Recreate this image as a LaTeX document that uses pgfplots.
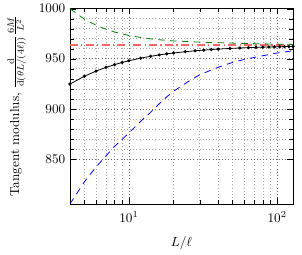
\documentclass[border=0pt]{standalone}
\usepackage{pgfplots}
\pgfplotsset{compat=1.18}
\definecolor{pinkred}{RGB}{245,105,105}
\begin{document}
\begin{tikzpicture}
\begin{axis}[
  name=ax,
  scale only axis,
  width=169pt, height=148pt,
  xmode=log,
  xmin=4, xmax=128,
  ymin=805, ymax=1000,
  ytick={850,900,950,1000},
  minor y tick num=4,
  /pgf/number format/set thousands separator={},
  grid=both,
  major grid style={dotted, gray!80!black},
  minor grid style={dotted, gray!70},
  tick style={black},
  xticklabel style={yshift=-2.5pt},
  xlabel={$L/\ell$},
  xlabel style={yshift=-4pt},
  ylabel={Tangent modulus, $\frac{\mathrm{d}}{\mathrm{d}(\theta L/(4\ell))}\frac{6M}{L^2}$},
  ylabel style={yshift=3pt},
]
\addplot[pinkred, line width=1pt, dash pattern=on 6pt off 2.5pt on 1pt off 2.5pt] coordinates {(4,963.6) (128,963.6)};
\addplot[green!50!black, line width=0.6pt, dash pattern=on 5pt off 4pt] coordinates {
(4,1000) (5,989.5) (6,983.5) (7,979.5) (8,976.7) (10,973.2) (12,971.2) (15,969.3) (20,967.8) (30,966.6) (40,966.0) (60,965.3) (80,964.9) (100,964.6) (128,964.3)};
\addplot[blue, line width=0.6pt, dash pattern=on 5pt off 4pt] coordinates {
(4,805) (5,827) (6,842) (7,853) (8,862.5) (9,869.5) (10,876) (12,887.5) (14,896.5) (16,905) (18,912) (20,917.5) (25,927) (30,934) (40,941.5) (50,946.3) (60,949.3) (80,953) (100,955.7) (128,958)};
\addplot[black, line width=0.6pt, mark=*, mark size=0.9pt] coordinates {
(4,924.75) (5,932.5) (6,937.67) (7,941.36) (8,944.13) (9,946.28) (10,948.0) (12,950.58) (14,952.43) (16,953.81) (18,954.89) (20,955.75) (24,957.04) (28,957.96) (32,958.66) (36,959.19) (40,959.63) (48,960.27) (56,960.73) (64,961.08) (72,961.35) (80,961.56) (88,961.74) (96,961.89) (104,962.01) (112,962.12) (120,962.21) (128,962.29)};
\end{axis}
\path ([shift={(-53pt,-35.6pt)}]ax.south west) rectangle ([shift={(6.8pt,5.3pt)}]ax.north east);
\end{tikzpicture}
\end{document}
